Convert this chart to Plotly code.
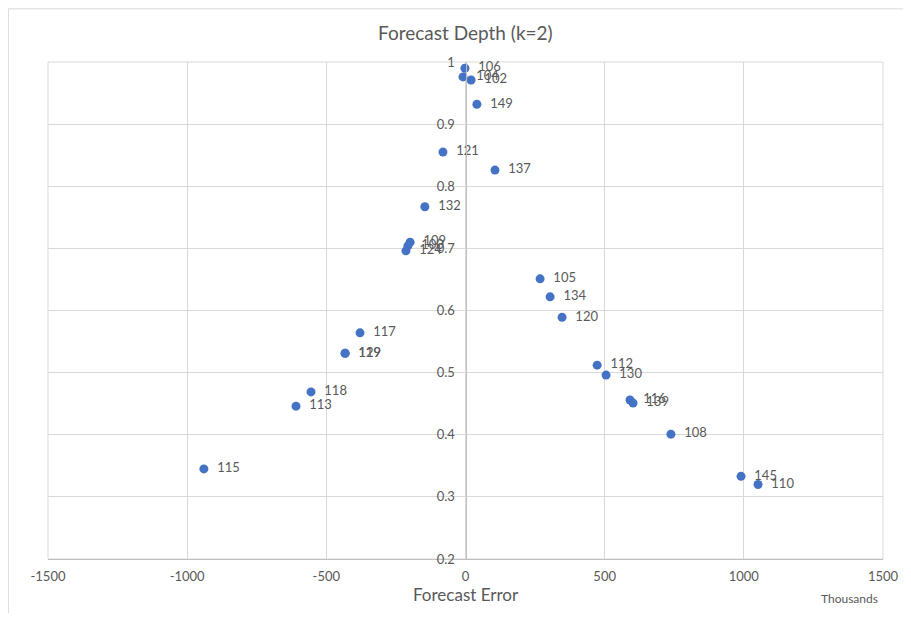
import plotly.graph_objects as go

labels = ["106", "104", "102", "149", "121", "137", "132", "109", "100", "124",
          "105", "134", "120", "117", "119", "129", "118", "113", "115", "112",
          "130", "116", "139", "108", "145", "110"]
forecast_error = [-2, -9, 20, 41, -81, 106, -146, -199, -207, -214,
                  268, 304, 347, -379, -433, -432, -555, -609, -940, 473,
                  505, 591, 602, 738, 990, 1051]
forecast_depth = [0.990, 0.976, 0.971, 0.932, 0.855, 0.826, 0.767, 0.710, 0.704, 0.696,
                  0.651, 0.622, 0.589, 0.564, 0.531, 0.531, 0.469, 0.446, 0.345, 0.512,
                  0.496, 0.456, 0.451, 0.401, 0.333, 0.320]

x_ticks = [-1500, -1000, -500, 0, 500, 1000, 1500]
y_ticks = [0.2, 0.3, 0.4, 0.5, 0.6, 0.7, 0.8, 0.9, 1]

font_family = "Lato, Open Sans, sans-serif"
gray = "#595959"

fig = go.Figure()
fig.add_trace(go.Scatter(
    x=forecast_error, y=forecast_depth, mode="markers+text",
    text=["  " + t for t in labels], textposition="middle right",
    textfont=dict(family=font_family, size=13, color="#595959"),
    marker=dict(color="#4472C4", size=9),
    cliponaxis=False, showlegend=False,
))

fig.update_layout(
    width=895, height=605,
    margin=dict(l=40, r=20, t=54, b=54),
    paper_bgcolor="white", plot_bgcolor="white",
    font=dict(family=font_family, color=gray),
    xaxis=dict(range=[-1500, 1500], tickvals=x_ticks, ticktext=[str(v) for v in x_ticks],
               showgrid=True, gridcolor="#d9d9d9", gridwidth=1, zeroline=False,
               showline=True, linecolor="#bfbfbf", linewidth=1,
               ticks="", tickfont=dict(size=13, color=gray), ticklabelstandoff=5,
               domain=[0, 1], automargin=False),
    yaxis=dict(range=[0.2, 1.0], tickvals=y_ticks, ticktext=[("%g" % v) for v in y_ticks],
               showgrid=True, gridcolor="#d9d9d9", gridwidth=1, zeroline=False,
               showline=True, linecolor="#bfbfbf", linewidth=1,
               anchor="free", position=0.5, ticks="", ticklabelstandoff=8,
               tickfont=dict(size=13, color=gray), automargin=False),
    annotations=[
        dict(text="Forecast Depth (k=2)", x=0.5, y=1.060, xref="paper", yref="paper",
             xanchor="center", yanchor="middle", showarrow=False,
             font=dict(size=19, color=gray, family=font_family)),
        dict(text="Forecast Error", x=0.5, y=-0.0724, xref="paper", yref="paper",
             xanchor="center", yanchor="middle", showarrow=False,
             font=dict(size=17, color=gray, family=font_family)),
        dict(text="Thousands", x=0.996, y=-0.080, xref="paper", yref="paper",
             xanchor="right", yanchor="middle", showarrow=False,
             font=dict(size=12, color=gray, family=font_family)),
    ],
    shapes=[
        dict(type="rect", xref="paper", yref="paper", x0=0, x1=1, y0=0, y1=1,
             line=dict(color="#d9d9d9", width=1), layer="below"),
        dict(type="line", xref="paper", yref="paper", x0=-0.0475, x1=1.03, y0=1.107, y1=1.107,
             line=dict(color="#d9d9d9", width=1)),
        dict(type="line", xref="paper", yref="paper", x0=-0.0475, x1=-0.0475, y0=-0.2, y1=1.107,
             line=dict(color="#d9d9d9", width=1)),
    ],
)

fig.write_html("out.html")
